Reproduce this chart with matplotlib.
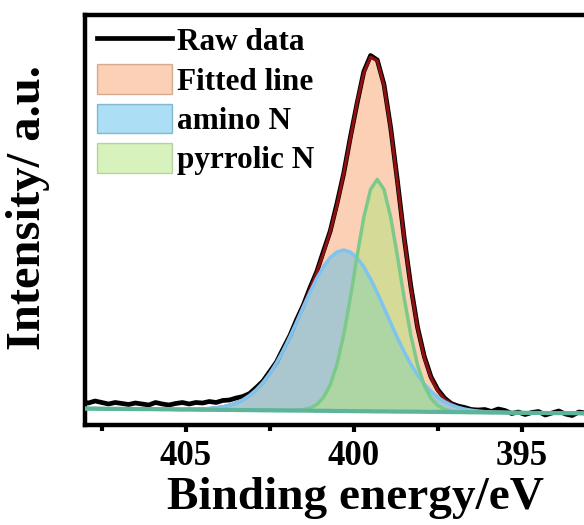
import matplotlib
matplotlib.use("Agg")
import matplotlib.pyplot as plt
import numpy as np
from matplotlib.lines import Line2D
from matplotlib.patches import Patch

# Binding energy grid (eV), 408.1 -> 392.7 in 0.2 eV steps
energy = np.round(np.arange(408.1, 392.69, -0.2), 1)

raw_data = [23.5, 22.0, 24.0, 22.5, 21.0, 22.5, 21.5, 20.5, 22.0, 21.0,
            20.0, 22.5, 21.0, 20.0, 21.5, 22.5, 21.0, 22.5, 22.0, 23.5,
            22.5, 24.5, 25.0, 27.0, 28.5, 31.5, 37.5, 44.0, 53.5, 63.0,
            76.5, 89.5, 105.5, 120.0, 137.5, 153.5, 174.0, 194.0, 221.5, 251.5,
            288.0, 322.0, 353.5, 369.5, 365.0, 340.5, 297.0, 244.0, 187.5, 138.5,
            97.5, 68.5, 48.0, 35.5, 27.0, 21.5, 19.0, 17.5, 15.5, 15.0,
            15.5, 13.5, 16.0, 14.5, 11.5, 13.0, 10.5, 12.5, 13.5, 10.0,
            12.0, 14.0, 11.0, 9.5, 13.0, 12.0, 10.5, 12.5]

background = [16.5, 16.4, 16.4, 16.3, 16.2, 16.2, 16.1, 16.0, 16.0, 15.9,
              15.9, 15.8, 15.7, 15.7, 15.6, 15.5, 15.5, 15.4, 15.3, 15.3,
              15.2, 15.1, 15.1, 15.0, 14.9, 14.9, 14.8, 14.7, 14.7, 14.6,
              14.6, 14.5, 14.4, 14.4, 14.3, 14.2, 14.2, 14.1, 14.0, 14.0,
              13.9, 13.8, 13.8, 13.7, 13.6, 13.6, 13.5, 13.4, 13.4, 13.3,
              13.3, 13.2, 13.1, 13.1, 13.0, 12.9, 12.9, 12.8, 12.7, 12.7,
              12.6, 12.5, 12.5, 12.4, 12.3, 12.3, 12.2, 12.1, 12.1, 12.0,
              11.9, 11.9, 11.8, 11.8, 11.7, 11.6, 11.6, 11.5]

# component intensities above the background
amino_N = [0.0] * 15 + [
    0.1, 0.3, 0.4, 0.7, 1.2, 2.0, 3.1, 4.7, 7.1, 10.3,
    14.7, 20.5, 27.8, 36.8, 47.5, 59.9, 73.7, 88.5, 103.7, 118.6,
    132.4, 144.3, 153.3, 159.0, 161.0, 159.0, 153.3, 144.3, 132.4, 118.6,
    103.7, 88.5, 73.7, 59.9, 47.5, 36.8, 27.8, 20.5, 14.7, 10.3,
    7.1, 4.7, 3.1, 2.0, 1.2, 0.7, 0.4, 0.3, 0.1] + [0.0] * 14

pyrrolic_N = [0.0] * 31 + [
    0.1, 0.4, 1.1, 2.7, 6.3, 13.4, 26.1, 46.7, 76.2, 113.7,
    155.4, 194.1, 221.9, 232.0, 221.9, 194.1, 155.4, 113.7, 76.2, 46.7,
    26.1, 13.4, 6.3, 2.7, 1.1, 0.4, 0.1] + [0.0] * 20

xticks_major = [405, 400, 395]
xticks_minor = [407.5, 402.5, 397.5]
legend_labels = ["Raw data", "Fitted line", "amino N", "pyrrolic N"]

bg = np.array(background)
amino_abs = bg + np.array(amino_N)
pyrrolic_abs = bg + np.array(pyrrolic_N)
fitted = bg + np.array(amino_N) + np.array(pyrrolic_N)

plt.rcParams['font.family'] = ['Liberation Serif', 'DejaVu Serif']
plt.rcParams['font.weight'] = 'bold'

fig = plt.figure(figsize=(5.84, 5.25), dpi=100)
ax = fig.add_axes([85 / 584, 100 / 525, 514 / 584, 410 / 525])

c_fit_fill = "#f9a36b"
c_amino_fill = "#5ac0ec"
c_pyr_fill = "#b0e67a"

ax.fill_between(energy, bg, fitted, color=c_fit_fill, alpha=0.5, lw=0, zorder=1)
ax.plot(energy, raw_data, color="black", lw=3.4, zorder=2)
ax.plot(energy, fitted, color="#8e1010", lw=2.2, zorder=3)
ax.fill_between(energy, bg, amino_abs, color=c_amino_fill, alpha=0.5, lw=0, zorder=4)
ax.fill_between(energy, bg, pyrrolic_abs, color=c_pyr_fill, alpha=0.5, lw=0, zorder=5)
ax.plot(energy, amino_abs, color="#7ec4ee", lw=2.5, zorder=6)
ax.plot(energy, pyrrolic_abs, color="#7dc98a", lw=2.5, zorder=7)
ax.plot(energy, bg, color="#5cb59a", lw=3.0, zorder=8)

ax.set_xlim(408.0, 392.7)
ax.set_ylim(0, 410)
ax.set_xticks(xticks_major)
ax.set_xticks(xticks_minor, minor=True)
ax.set_yticks([])
ax.tick_params(axis='x', which='major', direction='out', length=5, width=3,
               labelsize=25, pad=6)
ax.tick_params(axis='x', which='minor', direction='out', length=4, width=3)
for lab in ax.get_xticklabels():
    lab.set_fontweight('bold')
for sp in ax.spines.values():
    sp.set_linewidth(3.2)

ax.set_xlabel("Binding energy/eV", fontsize=34, fontweight='bold', labelpad=0)
ax.xaxis.set_label_coords(0.527, -0.126)
ax.xaxis.label.set_va('top')
ax.set_ylabel("Intensity/ a.u.", fontsize=35, fontweight='bold', va='center')
ax.yaxis.set_label_coords(-0.111, 0.53)

handles = [Line2D([0], [0], color='black', lw=3.4),
           Patch(facecolor=c_fit_fill, alpha=0.5, edgecolor="#b07050"),
           Patch(facecolor=c_amino_fill, alpha=0.5, edgecolor="#3080b0"),
           Patch(facecolor=c_pyr_fill, alpha=0.5, edgecolor="#80b060")]
leg = ax.legend(handles, legend_labels, loc='upper left',
                bbox_to_anchor=(12 / 514, 1 - 10 / 410), borderaxespad=0,
                borderpad=0, frameon=False, prop={'size': 22.5, 'weight': 'bold'},
                handlelength=2.4, handleheight=1.08, handletextpad=0.15,
                labelspacing=0.22)

fig.savefig("out.png", dpi=100)
